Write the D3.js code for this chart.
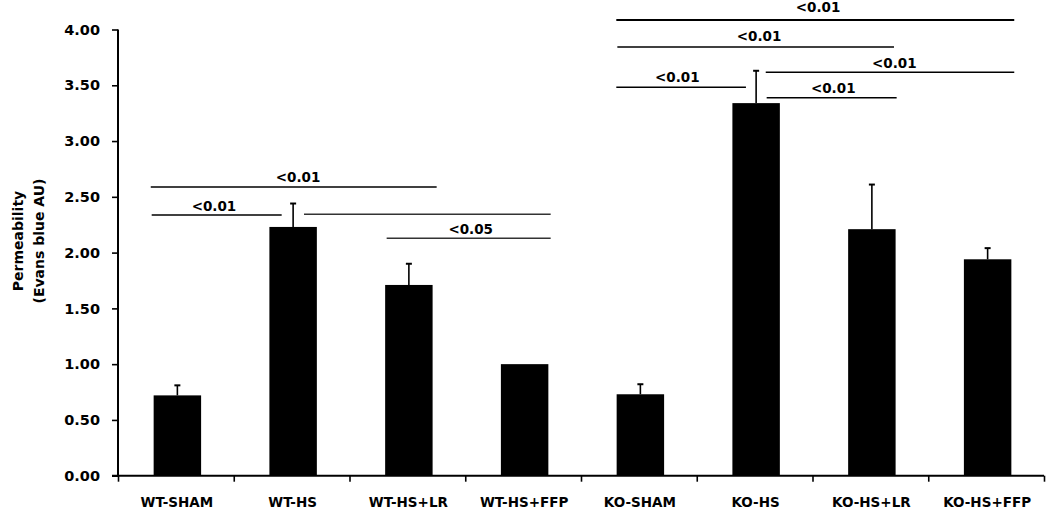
<!DOCTYPE html>
<html>
<head>
<meta charset="utf-8">
<script src="https://cdn.jsdelivr.net/npm/d3@7"></script>
<style>
  html, body { margin: 0; padding: 0; background: #fff; }
  text { font-family: "DejaVu Sans", Arial, sans-serif; font-weight: bold; fill: #000; }
</style>
</head>
<body>
<svg id="chart" width="1050" height="510"></svg>
<script>
// ---- data ----
const categories = ["WT-SHAM", "WT-HS", "WT-HS+LR", "WT-HS+FFP", "KO-SHAM", "KO-HS", "KO-HS+LR", "KO-HS+FFP"];
const means = [0.72, 2.23, 1.71, 1.00, 0.73, 3.34, 2.21, 1.94];
const errors = [0.09, 0.21, 0.19, 0, 0.09, 0.29, 0.40, 0.10];
const yTicks = [0, 0.5, 1.0, 1.5, 2.0, 2.5, 3.0, 3.5, 4.0];
// significance lines: start/end in category-index units, y in data units
const sigX1 = [0.283, 0.291, 1.607, 2.321, 4.305, 4.314, 5.596, 4.305, 5.604];
const sigX2 = [2.753, 1.414, 3.738, 3.738, 7.743, 6.704, 7.743, 5.425, 6.727];
const sigY  = [2.588, 2.337, 2.343, 2.128, 4.085, 3.843, 3.616, 3.482, 3.389];
// significance labels
const pLabels = ["<0.01", "<0.01", "<0.05", "<0.01", "<0.01", "<0.01", "<0.01", "<0.01"];
const pLabelX = [1.555, 0.829, 3.047, 6.048, 5.538, 6.707, 4.832, 6.179];
const pLabelY = [2.678, 2.420, 2.212, 4.199, 3.944, 3.697, 3.571, 3.478];

(function () {
// ---- layout ----
const svg = d3.select("#chart");
const mLeft = 118, mRight = 1044, mTop = 29.5, mBottom = 475.7;
const FONT = "'DejaVu Sans', Arial, sans-serif";

const x = d3.scaleBand().domain(categories).range([mLeft, mRight]).paddingInner(0.59).paddingOuter(0.295);
const xIdx = d3.scaleLinear().domain([0, categories.length]).range([mLeft, mRight]);
const y = d3.scaleLinear().domain([0, 4]).range([mBottom, mTop]);
const shift = 1.5;

// bars
svg.append("g").selectAll("rect").data(categories).join("rect")
  .attr("x", d => x(d) + shift)
  .attr("y", (d, i) => y(means[i]))
  .attr("width", x.bandwidth())
  .attr("height", (d, i) => y(0) - y(means[i]))
  .attr("fill", "#000");

// error bars
const eg = svg.append("g").attr("stroke", "#000").attr("stroke-width", 1.6);
categories.forEach((c, i) => {
  if (errors[i] <= 0) return;
  const cx = x(c) + x.bandwidth() / 2 + shift;
  eg.append("line").attr("x1", cx).attr("x2", cx).attr("y1", y(means[i])).attr("y2", y(means[i] + errors[i]));
  eg.append("line").attr("x1", cx - 3).attr("x2", cx + 3).attr("y1", y(means[i] + errors[i])).attr("y2", y(means[i] + errors[i])).attr("stroke-width", 2);
});

// y axis
const yAxis = svg.append("g").attr("transform", `translate(${mLeft},0)`)
  .call(d3.axisLeft(y).tickValues(yTicks).tickFormat(d3.format(".2f")).tickSizeOuter(0).tickSize(6).tickPadding(12));
yAxis.select(".domain").attr("stroke", "#000").attr("stroke-width", 2).attr("d", `M0,${mBottom}V${mTop}`);
yAxis.selectAll(".tick line").attr("stroke", "#000").attr("stroke-width", 1.6);
yAxis.selectAll(".tick text").style("font-size", "14.5px").style("font-family", FONT).style("font-weight", "bold");

// x axis (ticks at category boundaries)
const xAxis = svg.append("g").attr("transform", `translate(0,${mBottom})`)
  .call(d3.axisBottom(xIdx).tickValues(d3.range(categories.length + 1)).tickFormat("").tickSize(6).tickSizeOuter(0));
xAxis.select(".domain").attr("stroke", "#000").attr("stroke-width", 2).attr("d", `M${mLeft - 6},0H${mRight}`);
xAxis.selectAll(".tick line").attr("stroke", "#000").attr("stroke-width", 1.6);

// x labels
svg.append("g").selectAll("text").data(categories).join("text")
  .attr("x", d => x(d) + x.bandwidth() / 2 + 1)
  .attr("y", 502)
  .attr("text-anchor", "middle")
  .attr("dominant-baseline", "central")
  .style("font-size", "13.5px")
  .text(d => d);

// y title
const yt = svg.append("text")
  .attr("transform", "translate(0,241) rotate(-90)")
  .attr("text-anchor", "middle")
  .style("font-size", "14px");
yt.append("tspan").attr("x", 0).attr("y", 23).text("Permeability");
yt.append("tspan").attr("x", 0).attr("y", 44).text("(Evans blue AU)");

// significance lines
svg.append("g").selectAll("line").data(sigX1).join("line")
  .attr("x1", (d, i) => xIdx(sigX1[i]))
  .attr("x2", (d, i) => xIdx(sigX2[i]))
  .attr("y1", (d, i) => y(sigY[i]))
  .attr("y2", (d, i) => y(sigY[i]))
  .attr("stroke", (d, i) => (i === 2 || i === 3) ? "#333" : "#000")
  .attr("stroke-width", (d, i) => i === 4 ? 2.2 : 1.5);

// significance labels
svg.append("g").selectAll("text").data(pLabels).join("text")
  .attr("x", (d, i) => xIdx(pLabelX[i]))
  .attr("y", (d, i) => y(pLabelY[i]))
  .attr("text-anchor", "middle")
  .attr("dominant-baseline", "central")
  .style("font-size", "13.5px")
  .text(d => d);
})();
</script>
</body>
</html>
